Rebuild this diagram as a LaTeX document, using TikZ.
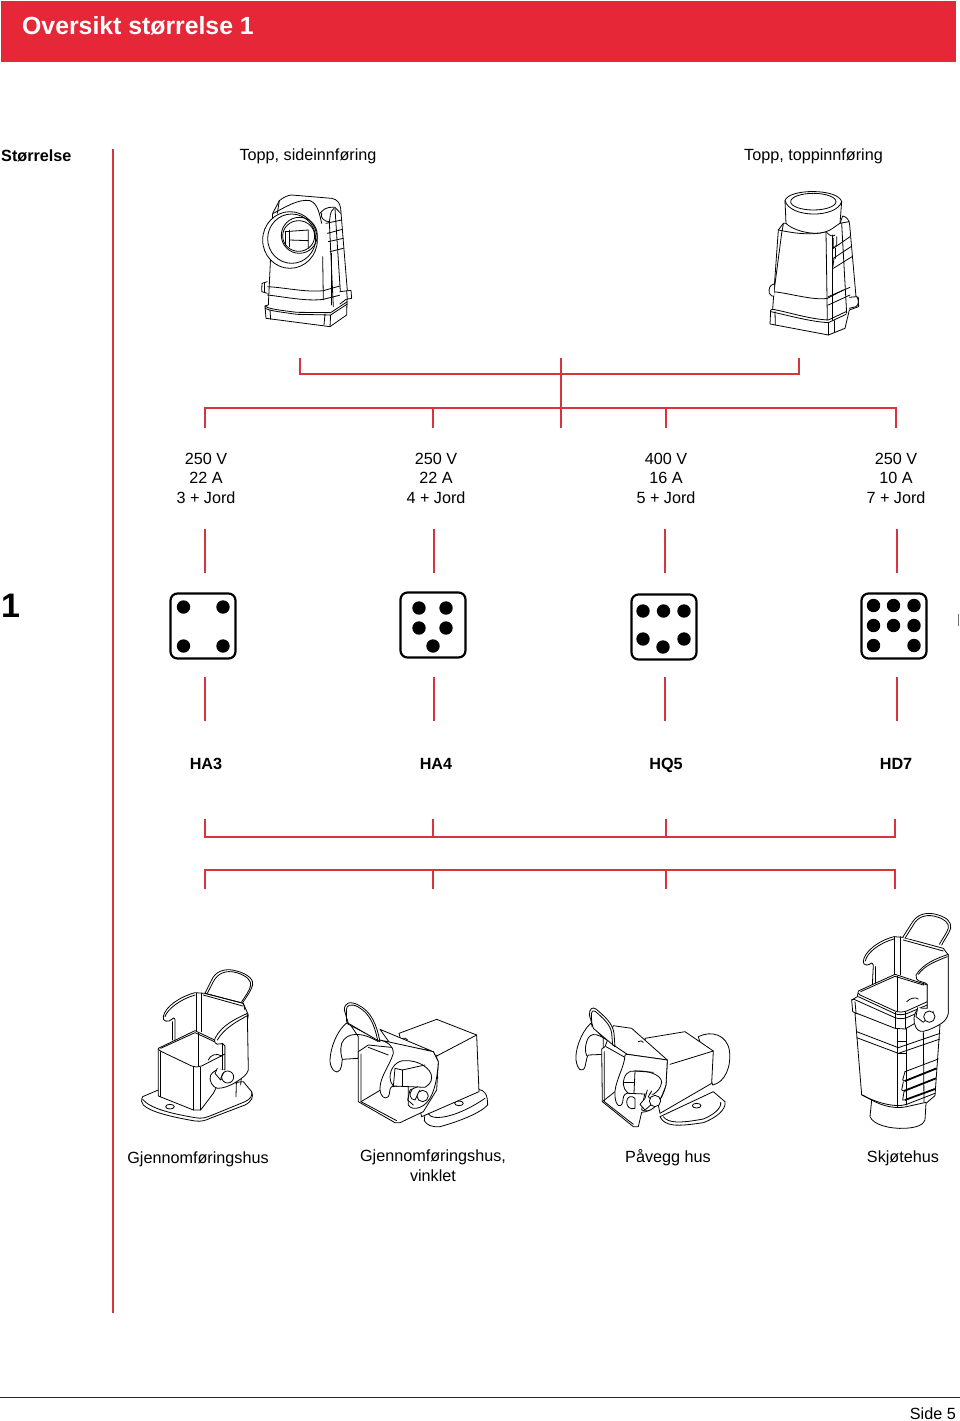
\documentclass[tikz,border=0pt]{standalone}
\usepackage{fontspec}
\setmainfont{Liberation Sans}
\definecolor{brand}{HTML}{E62737}
\definecolor{rule}{HTML}{D8343F}
\tikzset{
  redline/.style={draw=rule,line width=1.7pt},
  txt/.style={anchor=base,inner sep=0pt,font=\fontsize{16.2}{19.5}\selectfont},
  txtb/.style={anchor=base,inner sep=0pt,font=\fontsize{16.2}{19.5}\selectfont\bfseries},
  multi/.style={txt,align=center,anchor=north},
  die/.style={draw=black,line width=2.2pt,rounded corners=7pt,fill=white},
  pin/.style={fill=black},
  ink/.style={draw=black,line width=.8pt,line join=round,line cap=round},
  inkf/.style={ink,fill=white},
  zoomed/.style={x=.3333pt,y=-.3333pt},
}
\begin{document}
\begin{tikzpicture}[x=1pt,y=-1pt]
\useasboundingbox (0,0) rectangle (960,1421);
\fill[white] (0,0) rectangle (960,1421);
% header
\node[fill=brand,minimum width=955pt,minimum height=61pt,inner sep=0pt,anchor=north west] (bar) at (1,1) {};
\node[anchor=base west,inner sep=0pt,text=white,font=\fontsize{24.8}{30}\selectfont\bfseries] (title) at (22,35) {Oversikt størrelse 1};
% side rule
\coordinate (sideT) at (113,149); \coordinate (sideB) at (113,1313);
\draw[redline] (sideT) -- (sideB);
\node[anchor=base west,inner sep=0pt,font=\fontsize{16.2}{19.5}\selectfont\bfseries] (size) at (1,161) {Størrelse};
\node[txt] (topside) at (308,160.5) {Topp, sideinnføring};
\node[txt] (toptop) at (813.5,160.5) {Topp, toppinnføring};
% top brackets
\coordinate (a1) at (300,358); \coordinate (a2) at (300,374); \coordinate (a3) at (799,374); \coordinate (a4) at (799,358);
\draw[redline] (a1) -- (a2) -- (a3) -- (a4);
\coordinate (stemT) at (561,358); \coordinate (stemB) at (561,428);
\draw[redline] (stemT) -- (stemB);
\coordinate (b1) at (205,428); \coordinate (b1t) at (205,408); \coordinate (b4t) at (896,408); \coordinate (b4) at (896,428);
\draw[redline] (b1) -- (b1t) -- (b4t) -- (b4);
\foreach \x in {433,666} \draw[redline] (\x,408) -- (\x,428);
% ratings
\node[multi] (r1) at (206,452.5) {250 V\\22 A\\3 + Jord};
\node[multi] (r2) at (436,452.5) {250 V\\22 A\\4 + Jord};
\node[multi] (r3) at (666,452.5) {400 V\\16 A\\5 + Jord};
\node[multi] (r4) at (896,452.5) {250 V\\10 A\\7 + Jord};
% size number
\node[anchor=base west,inner sep=0pt,font=\fontsize{34}{40}\selectfont\bfseries] (one) at (1,617) {1};
% links
\foreach \x in {205,434,665,897} {
  \draw[redline] (\x,529) -- (\x,573);
  \draw[redline] (\x,677) -- (\x,721);
}
% dice
\node[die,minimum width=65pt,minimum height=65pt,inner sep=0pt] (d1) at (203,626) {};
\node[die,minimum width=65pt,minimum height=65pt,inner sep=0pt] (d2) at (433,625) {};
\node[die,minimum width=65pt,minimum height=65pt,inner sep=0pt] (d3) at (664,627) {};
\node[die,minimum width=65pt,minimum height=65pt,inner sep=0pt] (d4) at (894,626) {};
\foreach \p in {(183.5,607),(223,607),(183.5,646),(223,646),
  (419,608),(446,608),(419,628),(446,628),(433,646),
  (643,611),(663.5,611),(684,611),(643,639),(663,647),(684,639),
  (873.5,605.5),(893.5,605.5),(914,605.5),(873.5,625.5),(893.5,625.5),(914,625.5),(873.5,645.5),(914,645.5)}
  \fill[pin] \p circle (6.7pt);
\draw[draw=black!55,line width=1pt] (958.5,614) -- (958.5,626);
% codes
\node[txtb] (c1) at (206,769) {HA3};
\node[txtb] (c2) at (436,769) {HA4};
\node[txtb] (c3) at (666,769) {HQ5};
\node[txtb] (c4) at (896,769) {HD7};
% lower brackets
\coordinate (e1) at (205,819); \coordinate (e2) at (205,837); \coordinate (e3) at (895,837); \coordinate (e4) at (895,819);
\draw[redline] (e1) -- (e2) -- (e3) -- (e4);
\coordinate (f1) at (205,889); \coordinate (f2) at (205,870); \coordinate (f3) at (895,870); \coordinate (f4) at (895,889);
\draw[redline] (f1) -- (f2) -- (f3) -- (f4);
\foreach \x in {433,666} {\draw[redline] (\x,819) -- (\x,837); \draw[redline] (\x,870) -- (\x,889);}
% labels
\node[txt] (l1) at (198,1163) {Gjennomføringshus};
\node[multi] (l2) at (433,1150) {Gjennomføringshus,\\vinklet};
\node[txt] (l3) at (668,1162) {Påvegg hus};
\node[txt] (l4) at (903,1162) {Skjøtehus};
% footer
\coordinate (fl) at (0,1397); \coordinate (fr) at (960,1397);
\draw[draw=black!85,line width=1pt] (fl) -- (fr);
\node[anchor=base east,inner sep=0pt,font=\fontsize{16.2}{19.5}\selectfont,text=black] (page) at (956,1419.5) {Side 5};

% ---------- connector 1
\begin{scope}[shift={(240,180)},zoomed]
\draw[inkf] (98,100) -- (118,62) .. controls (130,52) and (145,45) .. (155,45) -- (275,55) .. controls (292,58) and (300,70) .. (302,85) -- (322,332) -- (320,405) -- (270,440) -- (78,415) -- (75,378) -- (85,375) -- (98,100);
\draw[ink] (118,62) -- (112,100);
\draw[ink] (100,100) .. controls (130,85) and (175,55) .. (210,62) .. controls (235,70) and (240,110) .. (245,130);
\draw[ink] (240,100) .. controls (250,90) and (255,80) .. (285,82) -- (302,100);
\draw[ink] (245,100) .. controls (240,115) and (255,125) .. (268,125) .. controls (272,110) and (268,95) .. (282,85);
\draw[ink] (268,125) -- (280,380); \draw[ink] (285,85) -- (302,350);
\draw[ink] (258,130) -- (305,120); \draw[ink] (262,160) -- (308,148); \draw[ink] (265,185) -- (310,175); \draw[ink] (270,215) -- (310,205);
\draw[ink] (248,230) -- (250,360); \draw[ink] (275,220) -- (275,375);
\draw[ink] (82,320) .. controls (130,322) and (200,338) .. (250,332) -- (300,318);
\draw[ink] (82,345) .. controls (130,350) and (200,365) .. (250,358) -- (302,345);
\draw[ink] (75,378) .. controls (85,385) and (90,387) .. (170,397) -- (272,398) -- (322,365);
\draw[ink] (75,385) .. controls (90,392) and (100,393) .. (170,403) -- (272,405) -- (322,372);
\draw[ink] (90,390) -- (92,418); \draw[ink] (255,402) -- (252,435); \draw[ink] (272,405) -- (270,440);
\draw[inkf] (82,305) -- (66,310) -- (65,335) -- (82,340);
\draw[ink] (74,308) -- (74,337);
\draw[inkf] (300,335) -- (333,331) -- (335,355) -- (318,358) -- (300,372);
\draw[ink] (320,333) -- (322,358);
\draw[inkf] (150,180) ellipse [x radius=82,y radius=85];
\draw[ink] (155,176) ellipse [x radius=72,y radius=74];
\draw[ink] (178,166) ellipse [x radius=54,y radius=54];
\draw[ink] (176,168) ellipse [x radius=48,y radius=46];
\draw[ink] (135,155) -- (205,150) -- (205,205); \draw[ink] (135,155) -- (135,195); \draw[ink] (148,150) -- (148,200);
\draw[ink] (148,180) -- (205,182);
\end{scope}

% ---------- connector 2
\begin{scope}[shift={(750,180)},zoomed]
\draw[inkf] (85,150) -- (100,130) -- (270,130) -- (278,108) .. controls (290,110) and (298,120) .. (299,135) -- (318,350) -- (325,352) -- (326,380) -- (298,390) -- (285,445) -- (235,465) -- (60,432) -- (62,390) -- (68,388) -- (85,150);
\draw[ink] (85,150) .. controls (110,155) and (180,170) .. (228,155) .. controls (240,170) and (250,170) .. (255,165);
\draw[ink] (95,160) -- (70,350); \draw[ink] (100,132) -- (95,160);
\draw[ink] (70,335) .. controls (120,340) and (190,362) .. (232,355) -- (280,330);
\draw[ink] (68,388) .. controls (110,395) and (180,418) .. (235,420) -- (288,395);
\draw[ink] (62,395) .. controls (110,405) and (180,425) .. (235,428) -- (288,403);
\draw[ink] (75,395) -- (76,435);
\draw[ink] (228,155) -- (232,420); \draw[ink] (248,165) -- (248,420); \draw[ink] (235,428) -- (235,465);\draw[ink] (252,422) -- (252,458);
\draw[ink] (275,130) -- (290,400); \draw[ink] (298,125) -- (268,130);
\draw[ink] (250,205) -- (300,170); \draw[ink] (250,235) -- (303,200); \draw[ink] (250,265) -- (306,230); \draw[ink] (250,175) -- (250,205) -- (260,195) -- (260,170);
\draw[ink] (255,235) -- (255,205); \draw[ink] (248,265) -- (252,235);
\draw[ink] (235,350) -- (300,322); \draw[ink] (235,375) -- (300,345);
\draw[inkf] (72,312) .. controls (60,315) and (55,325) .. (58,340) .. controls (62,348) and (68,350) .. (72,348);
\draw[inkf] (298,352) -- (320,350) .. controls (328,360) and (326,375) .. (318,380) -- (298,385);
\draw[inkf] (105,62) .. controls (115,25) and (265,25) .. (275,65) -- (270,130) .. controls (250,142) and (245,150) .. (228,155) .. controls (180,170) and (120,145) .. (108,130) -- (105,62);
\draw[ink] (105,62) .. controls (120,115) and (260,115) .. (275,65);
\draw[ink] (190,65) ellipse [x radius=68,y radius=25];
\end{scope}

% ---------- connector 3
\begin{scope}[shift={(130,960)},zoomed]
\draw[inkf] (225,100) -- (245,60) .. controls (255,35) and (285,22) .. (320,33) .. controls (355,42) and (372,60) .. (368,75) .. controls (362,95) and (350,110) .. (338,128);
\draw[ink] (232,100) -- (250,65) .. controls (262,42) and (285,28) .. (320,38) .. controls (350,47) and (365,62) .. (362,77) .. controls (358,93) and (345,110) .. (335,125);
% base
\draw[inkf] (85,390) -- (38,410) .. controls (32,420) and (35,430) .. (40,435) .. controls (60,455) and (120,470) .. (195,483) .. controls (215,485) and (225,482) .. (240,475) -- (345,435) .. controls (365,425) and (372,410) .. (365,395) -- (340,365) -- (85,390);
\draw[ink] (38,418) .. controls (60,445) and (120,460) .. (195,473) .. controls (215,477) and (225,473) .. (240,468) -- (345,425) .. controls (362,418) and (368,405) .. (365,395);
\draw[ink] (120,440) ellipse [x radius=13,y radius=7];
% hood back
\draw[inkf] (100,170) .. controls (105,140) and (150,110) .. (195,98) -- (225,100) -- (340,130) -- (355,165) -- (320,370) -- (135,280) -- (135,178) .. controls (135,172) and (128,172) .. (125,178) .. controls (118,188) and (95,185) .. (100,170);
\draw[ink] (105,170) .. controls (112,148) and (150,118) .. (195,105);
\draw[ink] (198,100) -- (198,215); \draw[ink] (215,100) -- (215,215);
\draw[ink] (128,185) -- (128,240);
\draw[ink] (225,100) -- (340,130) -- (345,150);
\draw[ink] (220,105) -- (338,138);
% housing
\draw[inkf] (85,265) -- (195,212) -- (285,255) -- (285,330) -- (250,400) -- (212,450) -- (190,450) -- (85,408) -- (85,265);
\draw[ink] (92,265) -- (195,218) -- (260,248);
\draw[ink] (204,218) -- (204,318);
\draw[ink] (85,265) .. controls (85,268) and (88,272) .. (95,275) -- (185,318) .. controls (195,322) and (205,322) .. (215,318) -- (285,282);
\draw[ink] (92,275) -- (92,410);
\draw[ink] (190,322) -- (190,450); \draw[ink] (212,322) -- (212,450);
\draw[ink] (320,340) -- (318,410);\draw[ink] (335,340) -- (332,375);
\draw[ink] (235,300) .. controls (240,285) and (260,278) .. (275,288);
% plate
\draw[inkf] (255,235) .. controls (275,195) and (320,175) .. (352,160) -- (355,330) .. controls (350,345) and (340,352) .. (320,365) .. controls (300,378) and (280,385) .. (262,385) .. controls (248,383) and (235,360) .. (242,345) .. controls (248,335) and (262,325) .. (278,330) -- (285,330) -- (285,258) .. controls (282,250) and (275,248) .. (268,252) .. controls (258,256) and (250,245) .. (255,235);
\draw[ink] (262,240) .. controls (282,205) and (320,185) .. (350,168);
\draw[ink] (277,250) -- (277,330);
% pin
\draw[inkf] (262,325) -- (255,340) -- (272,360) -- (295,335);
\draw[inkf] (293,351) circle [radius=18];
\draw[ink] (280,340) -- (272,355);
\end{scope}

% ---------- connector 4
\begin{scope}[shift={(325,990)},zoomed]
% base
\draw[inkf] (300,370) -- (460,298) .. controls (480,300) and (488,315) .. (488,345) .. controls (465,370) and (400,395) .. (345,410) .. controls (320,412) and (305,405) .. (298,392) -- (300,370);
\draw[ink] (310,372) .. controls (325,395) and (400,380) .. (480,325);
\draw[ink] (402,340) ellipse [x radius=13,y radius=7];
% rear block
\draw[inkf] (222,130) -- (335,88) -- (455,135) -- (462,305) -- (290,380) -- (222,130);
\draw[ink] (335,198) -- (455,135); \draw[ink] (335,195) -- (338,265);
% back hood
\draw[inkf] (70,95) .. controls (40,115) and (15,170) .. (15,215) .. controls (18,240) and (35,255) .. (45,240) .. controls (52,225) and (50,215) .. (52,208) -- (100,205) -- (100,140) -- (70,95);
\draw[ink] (160,155) .. controls (110,125) and (65,125) .. (50,160) .. controls (45,180) and (48,195) .. (52,208);
\draw[ink] (65,100) -- (160,150);
% housing
\draw[inkf] (100,185) -- (130,165) -- (325,185) -- (340,215) -- (335,300) -- (295,365) -- (225,398) -- (210,398) -- (100,335) -- (100,185);
\draw[inkf] (165,118) -- (320,183) -- (195,160) -- (165,118);
\draw[ink] (108,192) -- (108,335) -- (215,392); \draw[ink] (130,172) -- (190,195);
\draw[ink] (108,335) -- (175,295);
\draw[ink] (232,145) .. controls (238,142) and (245,145) .. (248,150);
% flap
\draw[inkf] (70,100) -- (58,60) .. controls (58,38) and (75,32) .. (100,45) .. controls (140,65) and (155,105) .. (165,155) -- (70,100);
\draw[ink] (65,95) -- (64,60) .. controls (64,45) and (78,40) .. (98,50) .. controls (135,70) and (148,105) .. (158,150);
% front plate
\draw[inkf] (165,150) .. controls (185,155) and (205,165) .. (205,190) .. controls (195,225) and (165,260) .. (165,295) .. controls (165,320) and (180,330) .. (190,320) .. controls (196,310) and (192,295) .. (200,290) -- (250,285) -- (250,345) .. controls (255,355) and (270,358) .. (285,352) .. controls (315,340) and (335,300) .. (340,215) -- (325,185) -- (165,150);
\draw[inkf] (195,262) .. controls (195,230) and (220,210) .. (240,212) .. controls (280,210) and (320,235) .. (320,262) .. controls (320,278) and (310,285) .. (300,292) -- (205,288) .. controls (198,280) and (195,272) .. (195,262);
\draw[ink] (232,240) -- (210,235) -- (205,290); \draw[ink] (232,240) -- (300,225); \draw[ink] (232,240) -- (232,290);
% pin
\draw[ink] (278,290) -- (255,300) -- (248,330) -- (265,345);
\draw[inkf] (262,298) .. controls (250,310) and (255,330) .. (270,330) -- (285,300);
\draw[inkf] (293,318) circle [radius=17];
\end{scope}

% ---------- connector 5
\begin{scope}[shift={(570,995)},zoomed]
% base
\draw[inkf] (270,365) .. controls (285,395) and (320,395) .. (400,383) .. controls (435,370) and (470,345) .. (465,320) -- (430,290) -- (270,365);
\draw[ink] (280,365) .. controls (295,385) and (330,385) .. (400,372) .. controls (430,360) and (455,340) .. (452,322);
\draw[ink] (380,332) ellipse [x radius=13,y radius=7];
% cable
\draw[inkf] (385,125) .. controls (425,105) and (470,120) .. (478,165) .. controls (485,215) and (465,262) .. (428,270) -- (385,125);
% rear
\draw[inkf] (225,130) -- (345,110) -- (430,168) -- (425,265) -- (270,355) -- (225,130);
\draw[ink] (300,208) -- (430,168);
% hood back
\draw[inkf] (62,85) .. controls (30,115) and (15,170) .. (18,195) .. controls (22,225) and (38,235) .. (45,215) .. controls (50,195) and (50,185) .. (55,180) -- (100,178) -- (100,130) -- (62,85);
\draw[ink] (135,155) .. controls (90,115) and (60,105) .. (50,140) .. controls (45,155) and (45,170) .. (50,182);
% top plate + housing
\draw[inkf] (130,92) -- (185,100) -- (292,195) -- (288,270) .. controls (275,320) and (250,350) .. (215,352) -- (205,395) -- (190,395) -- (97,320) -- (95,162) -- (105,155) -- (130,92);
\draw[ink] (172,178) -- (292,195);
\draw[ink] (130,150) -- (172,178);
\draw[ink] (205,140) .. controls (210,135) and (218,138) .. (220,142);
\draw[ink] (103,170) -- (103,320) -- (190,388);
\draw[ink] (97,320) -- (135,290);
\draw[ink] (108,155) -- (170,190);
% flap
\draw[inkf] (70,100) -- (58,60) .. controls (58,40) and (68,35) .. (78,42) .. controls (105,65) and (128,85) .. (132,115) -- (135,155) -- (70,100);
\draw[ink] (66,95) -- (64,60) .. controls (64,48) and (70,45) .. (77,50) .. controls (100,70) and (122,90) .. (125,115) -- (128,150);
% plate front
\draw[inkf] (165,180) .. controls (165,215) and (130,265) .. (135,305) .. controls (138,335) and (152,340) .. (158,322) .. controls (160,305) and (160,300) .. (170,295) -- (225,292) -- (215,345) .. controls (240,355) and (265,340) .. (288,270) -- (292,195) -- (172,178) -- (165,180);
\draw[inkf] (160,268) .. controls (160,240) and (175,225) .. (195,228) .. controls (235,225) and (275,240) .. (275,262) .. controls (272,280) and (262,290) .. (250,298) -- (175,295) .. controls (165,285) and (160,278) .. (160,268);
\draw[ink] (195,228) -- (192,295); \draw[ink] (160,262) -- (192,262);
\draw[ink] (195,228) -- (250,232);
\draw[inkf] (170,320) .. controls (170,305) and (185,300) .. (195,310) -- (195,340) .. controls (180,345) and (170,335) .. (170,320);
% pin
\draw[inkf] (232,285) -- (225,310) -- (210,328) -- (225,345) -- (248,325);
\draw[inkf] (245,288) -- (235,305) -- (245,315);
\draw[inkf] (255,318) circle [radius=17];
\end{scope}

% ---------- connector 6
\begin{scope}[shift={(840,905)},zoomed]
% body
\draw[inkf] (45,325) -- (65,570) -- (95,585) -- (90,635) .. controls (100,660) and (150,672) .. (195,670) .. controls (230,668) and (250,660) .. (255,645) -- (258,595) -- (285,572) -- (300,360) -- (45,325);
\draw[ink] (95,585) .. controls (130,605) and (170,612) .. (200,605) -- (258,592);
\draw[ink] (68,570) .. controls (100,590) and (165,610) .. (200,598) -- (285,565);
\draw[ink] (50,380) -- (175,428) -- (300,385);
\draw[ink] (50,398) -- (175,445) -- (300,402);
\draw[ink] (172,335) -- (172,605); \draw[ink] (198,370) -- (198,600); \draw[ink] (250,380) -- (252,590);
\draw[ink] (172,408) -- (198,408); \draw[ink] (172,445) -- (198,445);
% grip
\draw[draw=black,line width=1.8pt] (195,528) -- (290,490);
\draw[draw=black,line width=1.8pt] (192,558) -- (288,520);
\draw[draw=black,line width=1.8pt] (195,585) -- (285,552);
\draw[ink] (195,500) -- (188,525) -- (195,528); \draw[ink] (190,530) -- (185,555) -- (192,558); \draw[ink] (192,560) -- (188,585) -- (195,585);
\draw[ink] (195,500) -- (295,462);
% hood
\draw[inkf] (70,170) .. controls (70,145) and (110,108) .. (162,95) -- (188,97) -- (310,130) -- (325,150) -- (325,325) -- (225,310) -- (97,240) -- (100,180) .. controls (100,172) and (92,172) .. (88,178) .. controls (80,182) and (70,180) .. (70,170);
\draw[ink] (76,168) .. controls (80,145) and (115,115) .. (162,102);
\draw[ink] (105,185) -- (105,240);
\draw[ink] (162,95) -- (162,210); \draw[ink] (180,95) -- (180,210);
\draw[ink] (190,105) -- (310,138);
% flap
\draw[inkf] (188,97) -- (218,50) .. controls (235,25) and (265,20) .. (295,30) .. controls (320,38) and (335,50) .. (332,70) .. controls (325,90) and (312,105) .. (305,120);
\draw[ink] (196,98) -- (225,52) .. controls (240,32) and (265,27) .. (292,36) .. controls (315,43) and (328,55) .. (325,70) .. controls (318,88) and (305,105) .. (298,118);
% housing
\draw[inkf] (55,258) -- (165,208) -- (262,240) -- (262,320) -- (225,355) -- (195,372) -- (165,370) -- (38,320) -- (35,285) -- (52,275) -- (55,258);
\draw[ink] (62,260) -- (165,214) -- (250,240);
\draw[ink] (172,214) -- (172,318);
\draw[ink] (55,265) -- (60,270) -- (165,318) .. controls (175,322) and (190,322) .. (200,318) -- (262,290);
\draw[ink] (55,275) -- (165,326) .. controls (175,330) and (190,330) .. (200,326) -- (262,300);
\draw[ink] (35,285) -- (42,283) -- (165,338) .. controls (175,342) and (190,342) .. (200,338) -- (230,325);
\draw[ink] (45,290) -- (48,322);
\draw[ink] (200,290) .. controls (210,280) and (225,275) .. (235,282);
\draw[ink] (165,322) -- (165,370); \draw[ink] (195,322) -- (195,372);
\draw[ink] (250,228) -- (262,228) -- (262,240); \draw[ink] (250,228) -- (250,240);
% plate
\draw[inkf] (228,210) .. controls (250,175) and (290,160) .. (325,148) -- (325,325) .. controls (320,350) and (300,360) .. (265,375) .. controls (245,382) and (235,380) .. (228,368) .. controls (218,350) and (220,325) .. (235,310) -- (262,310) -- (262,238) .. controls (255,230) and (235,232) .. (230,222) -- (228,210);
\draw[ink] (235,208) .. controls (255,180) and (290,168) .. (322,155);
% pin
\draw[inkf] (233,308) -- (228,335) -- (250,352) -- (280,320);
\draw[inkf] (268,335) circle [radius=17];
\end{scope}
\end{tikzpicture}
\end{document}
